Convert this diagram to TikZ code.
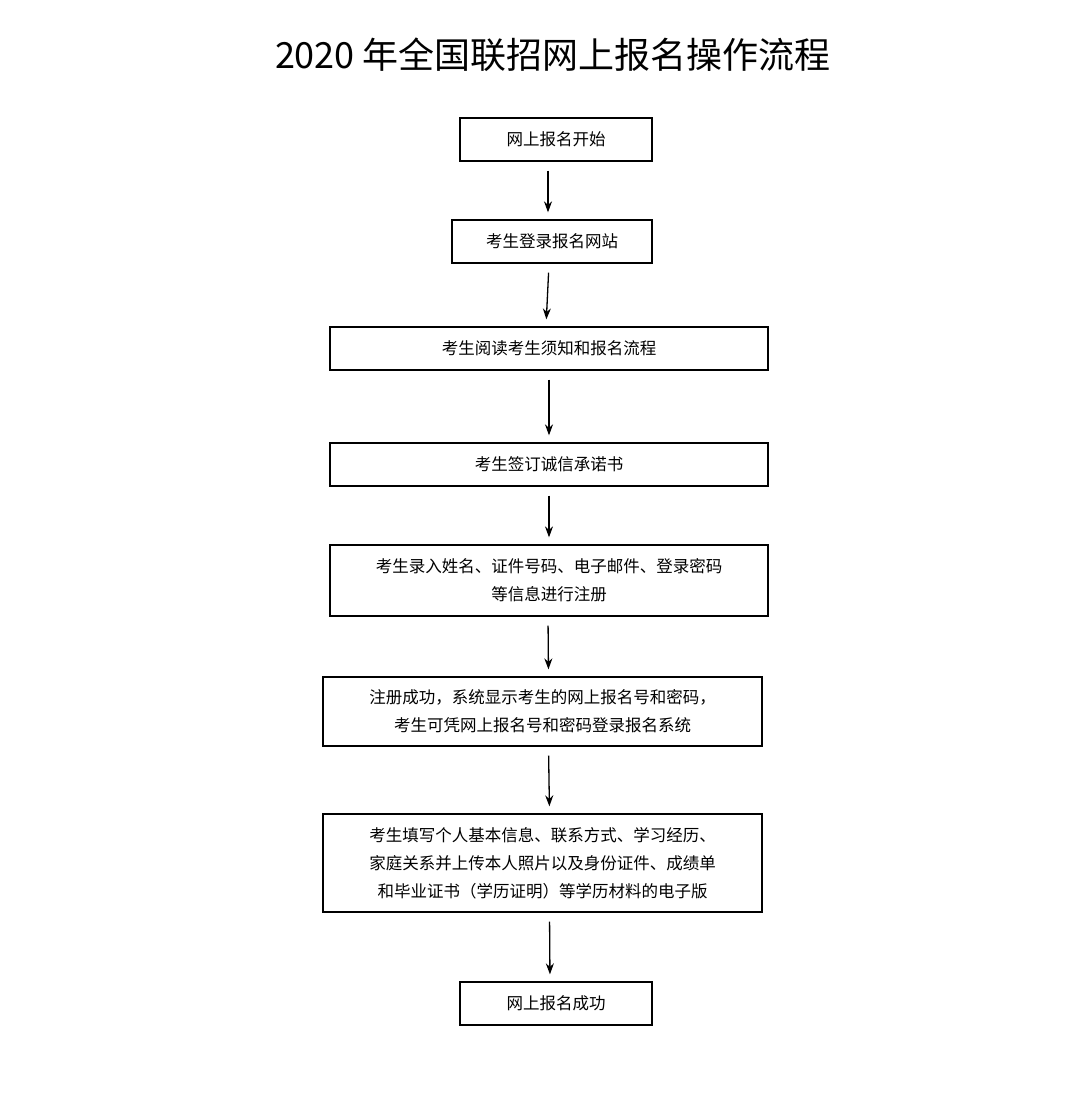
\documentclass[tikz,border=0pt]{standalone}
\usepackage{fontspec}
\setmainfont{Noto Sans CJK SC}
\usetikzlibrary{arrows.meta}
\begin{document}
\begin{tikzpicture}[x=1pt,y=-1pt,
  box/.style={draw,line width=1.3pt,inner sep=0pt,font=\fontsize{16.5}{28}\selectfont,align=center},
  arr/.style={-{Stealth[length=11pt,width=8pt]},line width=1.3pt,shorten <=9pt,shorten >=7pt}]
\useasboundingbox[fill=white] (0,0) rectangle (1080,1097);
\node[font=\fontsize{36}{40}\selectfont] (t) at (553,55) {2020 年全国联招网上报名操作流程};
\node[box,minimum width=192,minimum height=43] (b1) at (556,139.5) {网上报名开始};
\node[box,minimum width=200,minimum height=43] (b2) at (552,241.5) {考生登录报名网站};
\node[box,minimum width=438,minimum height=43] (b3) at (549,348.5) {考生阅读考生须知和报名流程};
\node[box,minimum width=438,minimum height=43] (b4) at (549,464.5) {考生签订诚信承诺书};
\node[box,minimum width=438,minimum height=71] (b5) at (549,580.5) {考生录入姓名、证件号码、电子邮件、登录密码\\等信息进行注册};
\node[box,minimum width=439,minimum height=69] (b6) at (542.5,711.5) {注册成功，系统显示考生的网上报名号和密码，\\考生可凭网上报名号和密码登录报名系统};
\node[box,minimum width=439,minimum height=98] (b7) at (542.5,863) {考生填写个人基本信息、联系方式、学习经历、\\家庭关系并上传本人照片以及身份证件、成绩单\\和毕业证书（学历证明）等学历材料的电子版};
\node[box,minimum width=192,minimum height=43] (b8) at (556,1003.5) {网上报名成功};
\draw[arr] ([xshift=-8pt]b1.south) -- ([xshift=-4pt]b2.north);
\draw[arr] ([xshift=-3pt]b2.south) -- ([xshift=-3pt]b3.north);
\draw[arr] (b3.south) -- (b4.north);
\draw[arr] (b4.south) -- (b5.north);
\draw[arr] ([xshift=-1pt]b5.south) -- ([xshift=6pt]b6.north);
\draw[arr] ([xshift=6pt]b6.south) -- ([xshift=7pt]b7.north);
\draw[arr] ([xshift=7pt]b7.south) -- ([xshift=-6pt]b8.north);
\end{tikzpicture}
\end{document}
